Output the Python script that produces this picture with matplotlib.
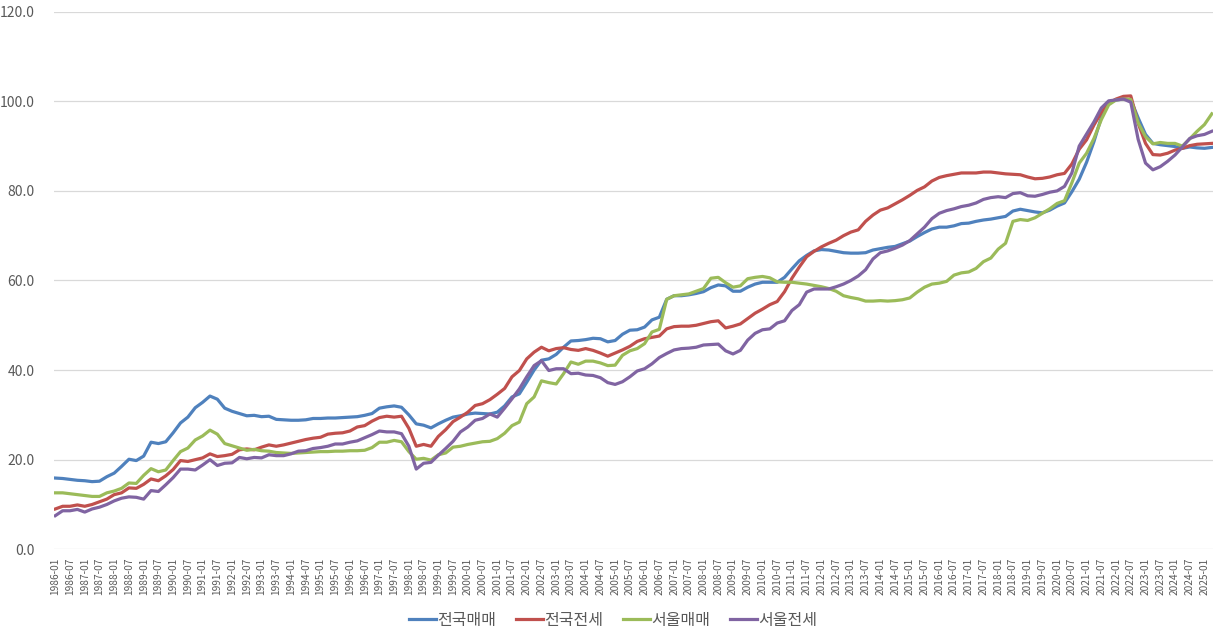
import pandas as pd
import matplotlib.pyplot as plt

plt.rcParams['font.family'] = ['Noto Sans CJK KR', 'DejaVu Sans']

# 분기별 지수 (1986-01 ~ 2025-04), 2022 = 100 근처 기준
dates = pd.date_range("1986-01-01", "2025-04-01", freq="3MS")

national_sale = [
    15.9, 15.8, 15.6, 15.4,  15.3, 15.1, 15.2, 16.2,  17.0, 18.5, 20.1, 19.8,
    20.8, 23.9, 23.6, 24.0,  26.0, 28.2, 29.5, 31.6,  32.8, 34.2, 33.5, 31.5,
    30.8, 30.3, 29.8, 29.9,  29.6, 29.7, 29.0, 28.9,  28.8, 28.8, 28.9, 29.2,
    29.2, 29.3, 29.3, 29.4,  29.5, 29.6, 29.9, 30.3,  31.5, 31.8, 32.0, 31.7,
    30.0, 28.0, 27.7, 27.1,  28.0, 28.8, 29.5, 29.8,  30.2, 30.4, 30.3, 30.2,
    30.6, 32.0, 34.0, 34.7,  37.3, 40.0, 42.2, 42.5,  43.5, 45.1, 46.5, 46.6,
    46.8, 47.1, 47.0, 46.3,  46.6, 48.0, 48.9, 49.0,  49.6, 51.2, 51.8, 55.8,
    56.6, 56.6, 56.8, 57.1,  57.5, 58.4, 59.0, 58.8,  57.6, 57.6, 58.5, 59.2,
    59.6, 59.6, 59.6, 60.7,  62.6, 64.4, 65.6, 66.6,  66.9, 66.8, 66.5, 66.2,
    66.1, 66.1, 66.2, 66.8,  67.1, 67.4, 67.6, 68.2,  68.8, 69.8, 70.7, 71.5,
    71.9, 71.9, 72.2, 72.7,  72.8, 73.2, 73.5, 73.7,  74.0, 74.3, 75.5, 75.9,
    75.6, 75.3, 75.1, 75.7,  76.6, 77.3, 79.8, 82.6,  86.4, 91.0, 96.4, 99.6,
    100.3, 100.5, 100.3, 96.3,  92.6, 90.6, 90.3, 90.1,  89.9, 89.5, 89.8, 89.6,
    89.5, 89.7,
]

national_jeonse = [
    9.0, 9.6, 9.6, 9.9,  9.6, 10.0, 10.6, 11.2,  12.2, 12.6, 13.7, 13.6,
    14.5, 15.7, 15.3, 16.4,  17.8, 19.8, 19.6, 20.0,  20.4, 21.3, 20.7, 20.9,
    21.2, 22.2, 22.4, 22.2,  22.8, 23.3, 23.0, 23.3,  23.7, 24.1, 24.5, 24.8,
    25.0, 25.7, 25.9, 26.0,  26.4, 27.3, 27.6, 28.6,  29.4, 29.7, 29.5, 29.7,
    27.0, 23.0, 23.4, 23.0,  25.2, 26.7, 28.5, 29.5,  30.6, 32.1, 32.5, 33.4,
    34.6, 35.9, 38.5, 39.9,  42.5, 44.0, 45.1, 44.3,  44.8, 45.0, 44.6, 44.4,
    44.8, 44.4, 43.8, 43.1,  43.8, 44.5, 45.3, 46.4,  47.0, 47.3, 47.6, 49.2,
    49.7, 49.8, 49.8, 50.0,  50.4, 50.8, 51.0, 49.4,  49.8, 50.3, 51.5, 52.7,
    53.6, 54.6, 55.3, 57.5,  60.5, 63.0, 65.3, 66.5,  67.5, 68.3, 69.0, 70.0,
    70.8, 71.3, 73.2, 74.6,  75.7, 76.2, 77.1, 78.0,  79.0, 80.1, 80.9, 82.2,
    83.0, 83.4, 83.7, 84.0,  84.0, 84.0, 84.2, 84.2,  84.0, 83.8, 83.7, 83.6,
    83.1, 82.7, 82.8, 83.1,  83.6, 83.9, 86.0, 89.3,  91.4, 94.7, 97.5, 99.6,
    100.5, 101.1, 101.2, 95.1,  90.6, 88.1, 88.0, 88.4,  89.1, 89.5, 90.1, 90.4,
    90.5, 90.6,
]

seoul_sale = [
    12.6, 12.6, 12.4, 12.2,  12.0, 11.8, 11.8, 12.6,  13.0, 13.6, 14.8, 14.7,
    16.5, 18.0, 17.3, 17.7,  19.8, 21.8, 22.6, 24.4,  25.3, 26.6, 25.7, 23.6,
    23.1, 22.6, 22.1, 22.3,  22.0, 21.9, 21.6, 21.5,  21.4, 21.5, 21.6, 21.7,
    21.8, 21.8, 21.9, 21.9,  22.0, 22.0, 22.1, 22.7,  23.9, 23.9, 24.3, 24.0,
    21.8, 20.1, 20.3, 19.9,  21.1, 21.5, 22.8, 23.0,  23.4, 23.7, 24.0, 24.1,
    24.7, 25.9, 27.6, 28.4,  32.5, 34.0, 37.6, 37.2,  36.9, 39.2, 41.8, 41.3,
    42.0, 42.0, 41.6, 41.0,  41.1, 43.3, 44.3, 44.8,  45.9, 48.5, 49.1, 55.8,
    56.6, 56.8, 57.0, 57.6,  58.2, 60.5, 60.7, 59.5,  58.5, 58.8, 60.4, 60.7,
    60.9, 60.6, 59.7, 59.6,  59.6, 59.4, 59.2, 58.9,  58.6, 58.2, 57.6, 56.6,
    56.2, 55.9, 55.4, 55.4,  55.5, 55.4, 55.5, 55.7,  56.1, 57.4, 58.5, 59.2,
    59.4, 59.8, 61.2, 61.7,  61.9, 62.7, 64.2, 65.0,  67.0, 68.3, 73.2, 73.6,
    73.4, 74.0, 75.0, 76.0,  77.2, 77.8, 81.8, 86.2,  88.4, 91.7, 95.9, 99.2,
    100.3, 100.5, 100.4, 95.2,  92.1, 90.5, 90.8, 90.6,  90.6, 90.0, 91.6, 93.3,
    94.8, 97.2,
]

seoul_jeonse = [
    7.5, 8.6, 8.6, 8.9,  8.3, 9.0, 9.4, 10.0,  10.8, 11.4, 11.7, 11.6,
    11.2, 13.1, 12.9, 14.4,  16.0, 17.9, 17.9, 17.7,  18.8, 20.0, 18.7, 19.2,
    19.3, 20.5, 20.2, 20.5,  20.4, 21.1, 20.9, 20.9,  21.3, 21.9, 22.0, 22.5,
    22.7, 23.0, 23.5, 23.5,  23.9, 24.2, 24.9, 25.6,  26.4, 26.2, 26.2, 25.8,
    23.0, 17.9, 19.2, 19.4,  21.0, 22.5, 24.1, 26.2,  27.3, 28.8, 29.2, 30.2,
    29.5, 31.5, 33.6, 35.8,  38.5, 41.0, 42.1, 39.9,  40.3, 40.3, 39.2, 39.3,
    38.9, 38.8, 38.3, 37.2,  36.8, 37.4, 38.5, 39.8,  40.3, 41.4, 42.8, 43.7,
    44.5, 44.8, 44.9, 45.1,  45.6, 45.7, 45.8, 44.3,  43.6, 44.4, 46.7, 48.2,
    49.0, 49.2, 50.5, 51.0,  53.3, 54.6, 57.4, 58.1,  58.1, 58.1, 58.6, 59.2,
    60.0, 61.0, 62.4, 64.8,  66.2, 66.6, 67.2, 67.9,  68.9, 70.4, 71.9, 73.8,
    75.0, 75.6, 76.0, 76.5,  76.8, 77.3, 78.1, 78.5,  78.7, 78.5, 79.4, 79.6,
    78.9, 78.8, 79.2, 79.7,  80.0, 81.0, 84.0, 90.0,  92.7, 95.4, 98.5, 100.1,
    100.3, 100.5, 99.8, 91.5,  86.2, 84.7, 85.4, 86.6,  88.0, 89.8, 91.7, 92.3,
    92.6, 93.3,
]

series = [
    ("전국매매", national_sale, "#4F81BD"),
    ("전국전세", national_jeonse, "#C0504D"),
    ("서울매매", seoul_sale, "#9BBB59"),
    ("서울전세", seoul_jeonse, "#8064A2"),
]

# 월 단위 카테고리 축 (엑셀처럼)
months = pd.period_range("1986-01", "2025-04", freq="M")
x = [(d.year - 1986) * 12 + d.month - 1 for d in dates]

fig = plt.figure(figsize=(12.2, 6.31), dpi=100)
ax = fig.add_axes([0.0443, 0.1295, 0.95, 0.852])

for name, vals, color in series:
    ax.plot(x, vals, color=color, lw=2.3, label=name, solid_joinstyle="round")

ax.set_xlim(-0.5, len(months) - 0.5)
ax.set_ylim(0, 120)
ax.set_yticks(range(0, 121, 20))
ax.set_yticklabels([f"{v:.1f}" for v in range(0, 121, 20)])
tick_pos = list(range(0, len(months), 6))
ax.set_xticks(tick_pos)
ax.set_xticklabels([months[i].strftime("%Y-%m") for i in tick_pos], rotation=90)

ax.grid(axis="y", color="#D9D9D9", lw=0.9)
ax.set_axisbelow(True)
for s in ax.spines.values():
    s.set_visible(False)
ax.tick_params(axis="both", length=0, colors="#595959")
ax.tick_params(axis="y", labelsize=10, pad=14)
ax.tick_params(axis="x", labelsize=7.3, pad=6)

fig.legend(loc="center", bbox_to_anchor=(0.5025, 0.017), ncol=4, frameon=False,
           fontsize=11.5, handlelength=1.7, handletextpad=0.1, columnspacing=1.2,
           labelcolor="#595959")

fig.savefig("out.png", dpi=100)
